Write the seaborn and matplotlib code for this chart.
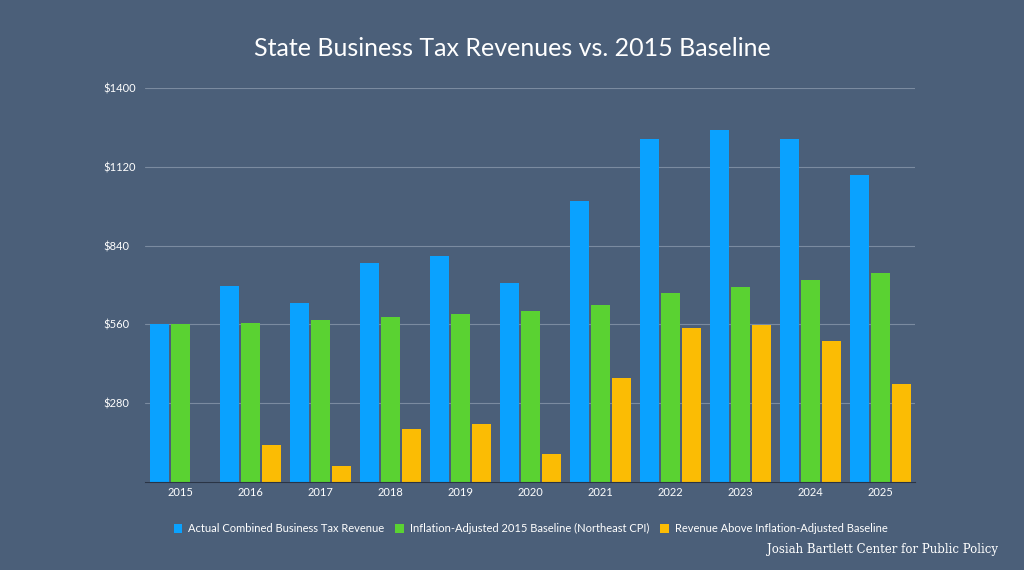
import pandas as pd
import matplotlib.pyplot as plt
import seaborn as sns

years = ['2015', '2016', '2017', '2018', '2019', '2020',
         '2021', '2022', '2023', '2024', '2025']
actual = [560, 696, 636, 778, 803, 707, 1000, 1221, 1253, 1221, 1093]
baseline = [560, 564, 575, 586, 596, 607, 628, 671, 693, 718, 743]
above = [0, 129, 57, 189, 204, 100, 368, 546, 557, 500, 346]
series = ['Actual Combined Business Tax Revenue',
          'Inflation-Adjusted 2015 Baseline (Northeast CPI)',
          'Revenue Above Inflation-Adjusted Baseline']

df = pd.DataFrame({'Year': years * 3,
                   'Value': actual + baseline + above,
                   'Series': [series[0]] * 11 + [series[1]] * 11 + [series[2]] * 11})

bg = '#4b5f79'
sns.set_style("white")
plt.rcParams['font.family'] = ['Lato', 'DejaVu Sans']

fig = plt.figure(figsize=(10.24, 5.70), dpi=100, facecolor=bg)
ax = fig.add_axes([0.142, 0.155, 0.752, 0.69])
ax.set_facecolor(bg)
sns.barplot(data=df, x='Year', y='Value', hue='Series', ax=ax,
            palette=['#0aa2ff', '#5ad232', '#fbbc04'],
            width=0.9, gap=0.08, saturation=1, linewidth=0, legend=True)

ax.set_ylim(0, 1400)
ax.set_yticks([0, 280, 560, 840, 1120, 1400])
ax.set_yticklabels(['', '$280', '$560', '$840', '$1120', '$1400'])
ax.yaxis.grid(True, color='#7b8ba0', linewidth=0.8)
ax.set_axisbelow(True)
for s in ['top', 'right', 'left']:
    ax.spines[s].set_visible(False)
ax.spines['bottom'].set_color('#2a3445')
ax.tick_params(axis='both', colors='white', labelsize=8, length=0)
ax.tick_params(axis='y', pad=30)
for lbl in ax.get_yticklabels():
    lbl.set_horizontalalignment('left')
ax.set_xlabel('')
ax.set_ylabel('')
ax.set_xlim(-0.5, 10.5)

ax.legend(loc='upper center', bbox_to_anchor=(0.5, -0.08), ncol=3,
          frameon=False, fontsize=8, labelcolor='white',
          handlelength=0.8, handleheight=0.8, columnspacing=1.0, handletextpad=0.5)

fig.text(0.5, 0.915, 'State Business Tax Revenues vs. 2015 Baseline',
         ha='center', va='center', color='white', fontsize=18)
fig.text(0.975, 0.025, 'Josiah Bartlett Center for Public Policy',
         ha='right', va='bottom', color='white', fontsize=8.5,
         family=['DejaVu Serif'])

plt.savefig('out.png', dpi=100, facecolor=bg)
